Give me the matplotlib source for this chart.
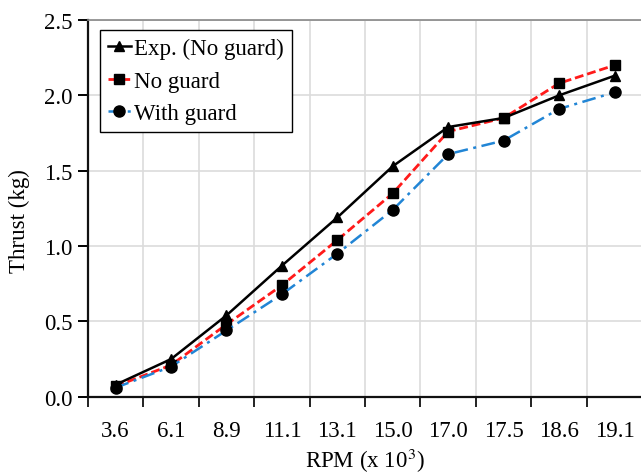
import numpy as np
import matplotlib.pyplot as plt

plt.rcParams['font.family'] = ['Liberation Serif', 'DejaVu Serif']
plt.rcParams['mathtext.fontset'] = 'stix'

rpm = ["3.6", "6.1", "8.9", "11.1", "13.1", "15.0", "17.0", "17.5", "18.6", "19.1"]
exp_no_guard = [0.08, 0.25, 0.54, 0.87, 1.19, 1.53, 1.79, 1.85, 2.00, 2.13]
no_guard = [0.07, 0.21, 0.48, 0.74, 1.04, 1.35, 1.76, 1.85, 2.08, 2.20]
with_guard = [0.06, 0.20, 0.44, 0.68, 0.95, 1.24, 1.61, 1.70, 1.91, 2.02]

fs = 16.5

fig = plt.figure(figsize=(6.41, 4.77), dpi=100)
ax = fig.add_axes([0.137, 0.166, 0.865, 0.790])

x = np.arange(len(rpm))
ax.plot(x, exp_no_guard, color="black", lw=1.8, marker="^", ms=7.5, mfc="black", mec="black",
        label="Exp. (No guard)", zorder=4)
ax.plot(x, no_guard, color="#ff1a1a", lw=2.0, ls=(0, (3.2, 1.4)), marker="s", ms=7.5,
        mfc="black", mec="black", label="No guard", zorder=3)
ax.plot(x, with_guard, color="#2185d5", lw=1.8, ls=(0, (5.5, 2.2, 1.2, 2.2)), marker="o", ms=8,
        mfc="black", mec="black", label="With guard", zorder=3)

ax.set_xlim(-0.5, len(rpm) - 0.5)
ax.set_ylim(0.0, 2.5)
ax.set_xticks(np.arange(-0.5, len(rpm), 1.0))
ax.set_xticklabels([])
ax.set_xticks(x, minor=True)
ax.set_xticklabels(rpm, minor=True)
ax.tick_params(axis="x", which="major", direction="out", length=7, width=1.4, color="#222222")
ax.tick_params(axis="x", which="minor", length=0, pad=17, labelsize=fs)
ax.set_yticks(np.arange(0, 2.51, 0.5))
ax.set_yticklabels([f"{v:.1f}" for v in np.arange(0, 2.51, 0.5)])
ax.tick_params(axis="y", direction="out", length=7, width=1.4, labelsize=fs, pad=4)

ax.grid(True, which="major", color="#dcdcdc", lw=1.2)
ax.set_axisbelow(True)
for s in ["left", "bottom"]:
    ax.spines[s].set_color("#111111")
    ax.spines[s].set_linewidth(1.6)
for s in ["top", "right"]:
    ax.spines[s].set_color("#888888")
    ax.spines[s].set_linewidth(1.2)

ax.set_xlabel(r"RPM (x 10$^3$)", fontsize=fs, labelpad=3)
ax.set_ylabel("Thrust (kg)", fontsize=fs)
ax.yaxis.set_label_coords(-0.104, 0.47)

leg = ax.legend(loc="upper left", bbox_to_anchor=(0.0216, 0.973), fontsize=fs, handlelength=1.0,
                handletextpad=0.15, borderpad=0.35, borderaxespad=0.0, labelspacing=0.5,
                fancybox=False, framealpha=1.0)
leg.get_frame().set_edgecolor("black")
leg.get_frame().set_linewidth(1.0)

fig.savefig("out.png", dpi=100)
